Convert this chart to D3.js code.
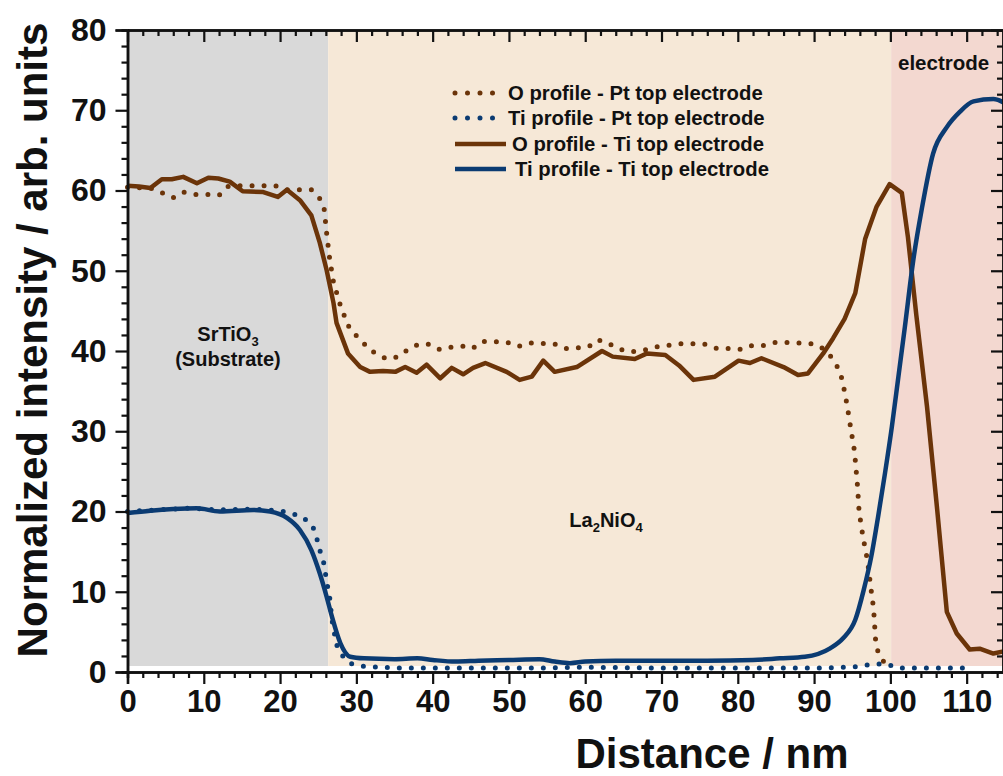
<!DOCTYPE html>
<html>
<head>
<meta charset="utf-8">
<script src="https://cdn.jsdelivr.net/npm/d3@7"></script>
<style>
  html, body { margin: 0; padding: 0; background: #fff; }
  svg { display: block; }
  text { font-family: "Liberation Sans", Arial, sans-serif; font-weight: bold; fill: #111; }
</style>
</head>
<body>
<svg id="chart" width="1003" height="776"></svg>
<script>
// ---------- data ----------
const xTicks = [0, 10, 20, 30, 40, 50, 60, 70, 80, 90, 100, 110];
const yTicks = [0, 10, 20, 30, 40, 50, 60, 70, 80];

// O profile - Ti top electrode (solid brown)
const oTiX = [0,1.5,3,4.5,5.8,7.3,9.1,10.6,11.9,13.4,15.1,17.8,19.7,20.9,22.6,24.1,25.2,26.1,27,27.4,28.9,30.5,31.8,33.5,35.1,36.4,37.9,39.2,41,42.5,44,45.3,46.9,49.7,51.4,53,54.5,56,58.9,62.2,63.6,66.5,68.1,70.5,72.3,74.2,77,80.1,81.6,83.1,86,87.9,89.2,91.2,92.5,94,95.4,96.7,98.2,99.9,101.5,102.3,103.4,104.8,106.1,107.4,108.7,110.4,111.7,113.5,115];
const oTiY = [60.6,60.5,60.3,61.4,61.4,61.7,60.9,61.6,61.5,61.1,59.9,59.8,59.2,60.1,58.8,56.9,53.5,50.1,46.0,43.5,39.7,38.0,37.4,37.5,37.4,38.0,37.3,38.3,36.6,37.9,37.1,37.9,38.5,37.4,36.4,36.8,38.8,37.4,38.0,40.0,39.3,39.0,39.7,39.5,38.2,36.4,36.8,38.8,38.5,39.1,38.0,37.0,37.2,39.7,41.6,44.0,47.2,54.0,58.0,60.8,59.7,54.2,44.5,33.1,20.6,7.5,4.8,2.8,2.9,2.3,2.6];

// Ti profile - Ti top electrode (solid blue)
const tiTiX = [0,3,6,9.1,12.1,16.5,18.7,20.9,22.6,24.1,25.2,26.1,26.8,27.9,29.2,31,35,38,40,43,46,50,54,56,58,60,64,70,76,82,85.5,88.8,92.1,93.8,95.4,96.5,97.5,98.4,99.3,100.2,101,101.9,103,104.1,105.6,107.4,109.1,110.9,113.5,115];
const tiTiY = [19.8,20.1,20.3,20.4,20.0,20.2,20.0,19.2,17.7,15.2,12.3,9.4,6.9,3.6,1.9,1.7,1.6,1.7,1.5,1.3,1.4,1.5,1.6,1.3,1.1,1.3,1.4,1.4,1.4,1.5,1.7,1.9,2.95,4.2,6.5,10.2,14.4,19.4,24.8,30.6,36.4,43.0,51.3,57.6,64.6,67.9,69.8,71.1,71.4,70.9];

// O profile - Pt top electrode (dotted brown)
const oPtX = [0,3,4.8,6,7.4,9,10.6,12,13.1,14.7,17.9,19.4,20.9,24.1,25.2,25.8,26.1,26.5,27,27.9,28.9,29.8,30.9,32.2,33.8,35,36.3,37.8,39.3,40.9,42.5,44,45.2,46.6,49.7,51.3,52.9,55.9,57.5,60.4,61.7,63.1,64.6,66.1,67.7,69.3,72.3,75.5,77.3,78.9,80.4,81.9,83.5,85.1,88.3,89.8,91.2,92.3,93.2,93.7,94.3,94.8,95.3,95.7,95.9,96.4,97,97.4,97.8,98,98.1,98.5,99.4,100.2];
const oPtY = [60.4,60.3,59.6,59.1,59.8,59.5,59.5,59.4,60.5,60.6,60.6,60.6,60.1,60.1,59.0,57.6,54.7,51.5,48.6,45.7,43.2,42.1,41.0,39.9,39.1,39.1,39.9,40.7,40.9,40.2,40.5,40.6,40.3,41.2,41.1,40.6,41.0,40.9,40.3,40.5,41.4,40.9,40.2,39.9,40.1,40.5,40.9,40.9,40.3,40.3,40.2,40.7,40.7,41.1,41.0,40.9,40.3,39.2,37.8,36.4,33.4,30.4,27.5,23.1,20.0,16.9,13.9,10.8,7.9,4.9,3.4,2.2,0.9,0.6];

// Ti profile - Pt top electrode (dotted blue)
const tiPtX = [0,4,8,12,16,20,21.7,23,24.3,24.8,25.2,25.7,26.2,26.5,26.8,27.4,28.1,29.1,31,35,45,55,60,70,80,90,95,97.8,99.5,101,110.5];
const tiPtY = [20.0,20.2,20.4,20.2,20.3,20.1,19.7,19.3,18.1,16.7,15.2,13.7,10.8,9.3,6.5,3.4,2.1,1.1,0.7,0.5,0.5,0.5,0.6,0.5,0.5,0.5,0.6,1.0,1.0,0.5,0.5];

const regionNames = ["substrate", "film", "electrode"];
const regionStart = [0, 26.3, 100.1];
const regionEnd = [26.3, 100.1, 116];

const legendLabels = ["O profile - Pt top electrode", "Ti profile - Pt top electrode", "O profile - Ti top electrode", "Ti profile - Ti top electrode"];

// ---------- styling ----------
const BROWN = "#6b3409";
const BLUE = "#0b3b72";
const regionColors = ["#d9d9d9", "#f6e8d7", "#f3d8d0"];

const svg = d3.select("#chart");
const x = d3.scaleLinear().domain([0, 115]).range([127.5, 1004.8]);
const y = d3.scaleLinear().domain([0, 80]).range([672, 30]);

// backgrounds
svg.selectAll("rect.region").data(regionNames).enter().append("rect")
  .attr("class", "region")
  .attr("x", (d, i) => x(regionStart[i]))
  .attr("width", (d, i) => x(regionEnd[i]) - x(regionStart[i]))
  .attr("y", y(80))
  .attr("height", y(0.75) - y(80))
  .attr("fill", (d, i) => regionColors[i]);

// lines
const mk = (xs, ys) => xs.map((v, i) => [v, ys[i]]);
const line = d3.line().x(d => x(d[0])).y(d => y(d[1]));
const lineSmooth = d3.line().x(d => x(d[0])).y(d => y(d[1])).curve(d3.curveMonotoneX);

svg.append("path").datum(mk(oPtX, oPtY)).attr("d", line)
  .attr("fill", "none").attr("stroke", BROWN).attr("stroke-width", 5)
  .attr("stroke-linecap", "round").attr("stroke-dasharray", "0 12");
svg.append("path").datum(mk(tiPtX, tiPtY)).attr("d", line)
  .attr("fill", "none").attr("stroke", BLUE).attr("stroke-width", 5)
  .attr("stroke-linecap", "round").attr("stroke-dasharray", "0 12");
svg.append("path").datum(mk(oTiX, oTiY)).attr("d", line)
  .attr("fill", "none").attr("stroke", BROWN).attr("stroke-width", 4.5)
  .attr("stroke-linejoin", "round");
svg.append("path").datum(mk(tiTiX, tiTiY)).attr("d", lineSmooth)
  .attr("fill", "none").attr("stroke", BLUE).attr("stroke-width", 4.5)
  .attr("stroke-linejoin", "round");

// axes
const minorX = d3.range(0, 117, 2).filter(v => v % 10 !== 0);
const minorY = d3.range(0, 81, 2).filter(v => v % 10 !== 0);

const xAxis = svg.append("g").attr("transform", `translate(0,${y(0)})`)
  .call(d3.axisBottom(x).tickValues(xTicks).tickSize(12).tickPadding(6).tickFormat(d3.format("d")));
svg.append("g").attr("transform", `translate(0,${y(0)})`)
  .call(d3.axisBottom(x).tickValues(minorX).tickSize(6).tickFormat(""));
svg.append("g").attr("transform", `translate(0,${y(80)})`)
  .call(d3.axisBottom(x).tickValues(xTicks).tickSize(12).tickSizeOuter(0).tickFormat(""));
svg.append("g").attr("transform", `translate(0,${y(80)})`)
  .call(d3.axisBottom(x).tickValues(minorX).tickSize(6).tickSizeOuter(0).tickFormat(""));

const yAxis = svg.append("g").attr("transform", `translate(${x(0)},0)`)
  .call(d3.axisLeft(y).tickValues(yTicks).tickSize(12).tickPadding(9));
svg.append("g").attr("transform", `translate(${x(0)},0)`)
  .call(d3.axisLeft(y).tickValues(minorY).tickSize(6).tickFormat(""));
svg.append("g").attr("transform", `translate(1003,0)`)
  .call(d3.axisLeft(y).tickValues(yTicks).tickSize(12).tickSizeOuter(0).tickFormat(""));
svg.append("g").attr("transform", `translate(1003,0)`)
  .call(d3.axisLeft(y).tickValues(minorY).tickSize(6).tickSizeOuter(0).tickFormat(""));

svg.selectAll(".domain").attr("stroke", "#111").attr("stroke-width", 2.5);
svg.selectAll(".tick line").attr("stroke", "#111").attr("stroke-width", 2.2);
xAxis.selectAll("text").attr("font-size", 31).attr("font-family", "Liberation Sans").attr("font-weight", "bold");
yAxis.selectAll("text").attr("font-size", 32).attr("font-family", "Liberation Sans").attr("font-weight", "bold");

// Axis titles
svg.append("text").attr("x", 712).attr("y", 768).attr("text-anchor", "middle")
  .attr("font-size", 42).text("Distance / nm");
svg.append("text").attr("transform", "translate(47,340) rotate(-90)").attr("text-anchor", "middle")
  .attr("font-size", 42).text("Normalized intensity / arb. units");

// region labels
const t1 = svg.append("text").attr("x", 228).attr("y", 341).attr("text-anchor", "middle").attr("font-size", 20);
t1.append("tspan").text("SrTiO");
t1.append("tspan").attr("font-size", 13).attr("dy", 5).text("3");
svg.append("text").attr("x", 228).attr("y", 366).attr("text-anchor", "middle").attr("font-size", 20).text("(Substrate)");

const t2 = svg.append("text").attr("x", 606).attr("y", 527).attr("text-anchor", "middle").attr("font-size", 20);
t2.append("tspan").text("La");
t2.append("tspan").attr("font-size", 13).attr("dy", 5).text("2");
t2.append("tspan").attr("dy", -5).text("NiO");
t2.append("tspan").attr("font-size", 13).attr("dy", 5).text("4");

svg.append("text").attr("x", 898).attr("y", 70).attr("font-size", 20.5).text("electrode");

// legend
const legY = [93, 118, 144, 169];
const legX0 = [455, 455, 455, 455];
const legX1 = [494, 494, 506, 506];
const legTextX = [508, 508, 512, 515];
const legColor = [BROWN, BLUE, BROWN, BLUE];
const legDotted = [true, true, false, false];
const leg = svg.append("g");
legendLabels.forEach((lab, i) => {
  const l = leg.append("line").attr("x1", legX0[i]).attr("x2", legX1[i])
    .attr("y1", legY[i]).attr("y2", legY[i]).attr("stroke", legColor[i]);
  if (legDotted[i]) {
    l.attr("stroke-width", 5).attr("stroke-linecap", "round").attr("stroke-dasharray", "0 12.5");
  } else {
    l.attr("stroke-width", 4.5);
  }
  leg.append("text").attr("x", legTextX[i]).attr("y", legY[i] + 7).attr("font-size", 20.3).text(lab);
});
</script>
</body>
</html>
